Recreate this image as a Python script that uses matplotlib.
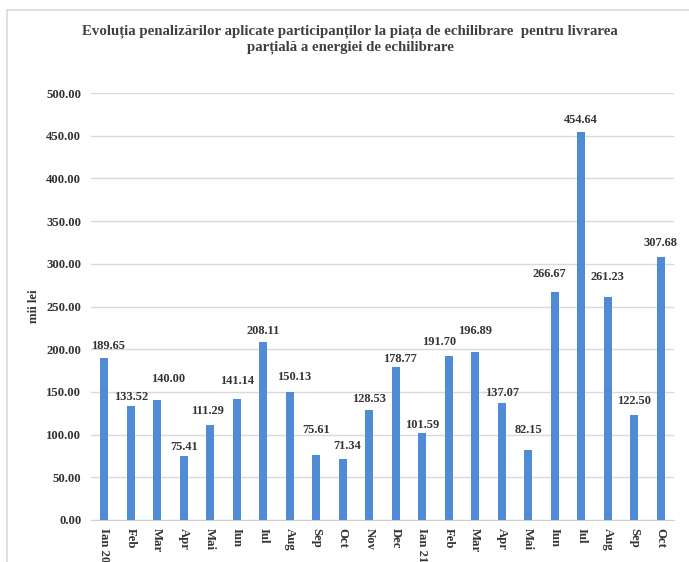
import matplotlib
matplotlib.use("Agg")
import matplotlib.pyplot as plt
from matplotlib.patches import Rectangle

categories = ["Ian 20", "Feb", "Mar", "Apr", "Mai", "Iun", "Iul", "Aug", "Sep", "Oct", "Nov", "Dec",
              "Ian 21", "Feb", "Mar", "Apr", "Mai", "Iun", "Iul", "Aug", "Sep", "Oct"]
values = [189.65, 133.52, 140.00, 75.41, 111.29, 141.14, 208.11, 150.13, 75.61, 71.34, 128.53, 178.77,
          101.59, 191.70, 196.89, 137.07, 82.15, 266.67, 454.64, 261.23, 122.50, 307.68]
yticks = [0, 50, 100, 150, 200, 250, 300, 350, 400, 450, 500]

# label placement tweaks (points) mimicking the reference's label layout
label_dy = [4, 2, 11, 2, 6, 9, 4, 6, 14, 5, 4, 2, 1.5, 6, 11, 3, 10, 9, 4, 10, 6, 6]
label_dx = [3, 0, 8, 0, -2, 0, 0, 3, 0, 3, 0, 3, 0, -7, 0, 0, 0, -4, 0, 0, 0, 0]

W, H = 689, 562
fig = plt.figure(figsize=(W/100, H/100), dpi=100)
plt.rcParams['font.family'] = ['Liberation Serif', 'DejaVu Serif']
txt_color = '#333333'

# outer border
fig.patches.append(Rectangle((7/W, -0.1), 1.1, 1 - 10/H + 0.1, transform=fig.transFigure,
                             fill=False, edgecolor='#d9d9d9', linewidth=1.2))

ax = fig.add_axes([91/W, 1 - 520/H, (674-91)/W, (520-93)/H])
x = list(range(len(categories)))
ax.bar(x, values, width=0.32, color='#508bd6', zorder=3)
ax.set_xlim(-0.5, len(categories) - 0.5)
ax.set_ylim(0, 500)
ax.set_yticks(yticks)
ax.set_yticklabels([f"{v:.2f}" for v in yticks], fontsize=9.2, fontweight='bold', color=txt_color)
ax.set_xticks(x)
ax.set_xticklabels(categories, rotation=-90, fontsize=9.2, fontweight='bold', color=txt_color,
                   va='top', ha='center')
ax.tick_params(axis='both', length=0)
ax.tick_params(axis='y', pad=7)
ax.tick_params(axis='x', pad=6)
ax.grid(axis='y', color='#d9d9d9', linewidth=1, zorder=0)
for s in ['top', 'right', 'left']:
    ax.spines[s].set_visible(False)
ax.spines['bottom'].set_color('#d0d0d0')

for xi, v, dy, dx in zip(x, values, label_dy, label_dx):
    ax.annotate(f"{v:.2f}", (xi, v), xytext=(dx, dy), textcoords='offset points',
                ha='center', va='bottom', fontsize=8.9, fontweight='bold', color=txt_color)

ax.set_ylabel("mii lei", fontsize=9.2, fontweight='bold', color=txt_color)
ax.yaxis.set_label_coords((40 - 91) / (674 - 91), 0.5)

fig.text(0.508, 1 - 39/H, "Evoluția penalizărilor aplicate participanților la piața de echilibrare  pentru livrarea\nparțială a energiei de echilibrare",
         ha='center', va='center', fontsize=10.7, fontweight='bold', color='#404040', linespacing=1.25)

fig.savefig("out.png", dpi=100)
